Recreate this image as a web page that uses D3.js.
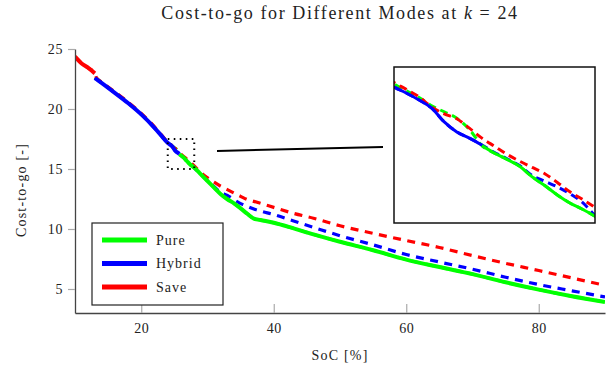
<!DOCTYPE html>
<html>
<head>
<meta charset="utf-8">
<script src="https://cdn.jsdelivr.net/npm/d3@7"></script>
<style>
  body { margin: 0; background: #fff; }
  text { font-family: "Liberation Serif", "Times New Roman", serif; fill: #222; }
</style>
</head>
<body>
<div id="chart"></div>
<script>
// state of charge grid [%]
const soc = [10, 11, 12, 13, 13.2, 14, 16, 18, 20, 22, 23,
    24, 24.25, 24.5, 24.75, 25, 25.25, 25.5, 25.75, 26, 26.25, 26.5, 26.75, 27, 27.25, 27.5, 27.75, 28,
    29, 30, 31, 32, 33, 34, 35, 36, 37, 38,
    40, 43, 46, 50, 55, 60, 65, 70, 75, 80, 85, 90];

const pure = [null, null, null, 22.62, 22.55, 22.22, 21.39, 20.54, 19.59, 18.47, 17.84,
    17.23, 17.12, 17.01, 16.88, 16.78, 16.68, 16.50, 16.24, 16.12, 16.02, 15.91, 15.74, 15.60, 15.45, 15.32, 15.22, 15.11,
    14.55, 14.0, 13.45, 12.9, 12.48, 12.14, 11.72, 11.27, 10.87, 10.75,
    10.52, 10.05, 9.55, 8.94, 8.23, 7.45, 6.83, 6.24, 5.56, 4.95, 4.40, 3.92];

const hybrid = [null, null, null, 22.58, 22.5, 22.18, 21.35, 20.5, 19.55, 18.43, 17.8,
    17.18, 17.08, 16.97, 16.84, 16.62, 16.46, 16.36, 16.25, 16.13, 16.03, 15.92, 15.76, 15.67, 15.58, 15.47, 15.33, 15.12,
    14.6, 14.05, 13.52, 13.05, 12.8, 12.45, 12.12, 11.89, 11.67, 11.5,
    11.2, 10.67, 10.14, 9.44, 8.68, 7.87, 7.25, 6.65, 5.98, 5.37, 4.85, 4.34];

const save = [24.36, 23.8, 23.42, 22.97, 22.65, 22.25, 21.43, 20.58, 19.63, 18.52, 17.88,
    17.25, 17.14, 17.02, 16.86, 16.75, 16.67, 16.52, 16.36, 16.23, 16.10, 15.99, 15.89, 15.79, 15.65, 15.50, 15.38, 15.25,
    14.7, 14.27, 13.9, 13.56, 13.28, 13.0, 12.72, 12.45, 12.3, 12.14,
    11.8, 11.3, 10.9, 10.27, 9.64, 9.04, 8.46, 7.78, 7.14, 6.54, 5.92, 5.3];

const modes = ['Pure', 'Hybrid', 'Save'];
const colors = ['#00ff00', '#0000ff', '#ff0000'];
const xTicks = [20, 40, 60, 80];
const yTicks = [5, 10, 15, 20, 25];
const zoomX = [24, 28];
const zoomY = [15, 17.5];

const width = 610, height = 368;
const margin = { top: 49, right: 5, bottom: 55, left: 75 };

const svg = d3.select('#chart').append('svg')
    .attr('width', width)
    .attr('height', height);

const x = d3.scaleLinear().domain([10, 90]).range([margin.left, width - margin.right]);
const y = d3.scaleLinear().domain([3, 25]).range([height - margin.bottom, margin.top]);

// one record per mode, with a flag where that mode gives the lowest cost
const allValues = [pure, hybrid, save];
const series = modes.map((name, k) => ({
    name,
    color: colors[k],
    points: soc.map((s, i) => ({ soc: s, v: allValues[k][i] }))
}));
series.forEach(sr => {
    sr.points.forEach((p, i) => {
        const vals = allValues.map(a => a[i]).filter(v => v != null);
        p.opt = p.v != null && p.v <= d3.min(vals) + 1e-9;
    });
    sr.points.forEach((p, i) => {
        p.solid = p.opt || (i > 0 && sr.points[i - 1].opt);
    });
});

// widen text a little with letter spacing (capped) to get near the original width
function fitText(sel, target, maxSpacing) {
    const w = sel.node().getComputedTextLength();
    const n = sel.text().length;
    const s = Math.max(0, Math.min(maxSpacing, (target - w) / n));
    sel.style('letter-spacing', s + 'px');
}

svg.append('defs').append('clipPath').attr('id', 'clip-main')
    .append('rect')
    .attr('x', margin.left).attr('y', margin.top)
    .attr('width', width - margin.left - margin.right)
    .attr('height', height - margin.top - margin.bottom);

function drawCurves(g, xs, ys, widthSolid, widthDash, dash) {
    const line = d3.line()
        .defined(p => p.v != null)
        .x(p => xs(p.soc))
        .y(p => ys(p.v))
        .curve(d3.curveMonotoneX);
    const solidLine = d3.line()
        .defined(p => p.v != null && p.solid)
        .x(p => xs(p.soc))
        .y(p => ys(p.v))
        .curve(d3.curveMonotoneX);

    g.selectAll('path.dash')
        .data(series)
        .enter().append('path')
        .attr('class', 'dash')
        .attr('fill', 'none')
        .attr('stroke', d => d.color)
        .attr('stroke-width', widthDash)
        .attr('stroke-dasharray', dash)
        .attr('d', d => line(d.points));

    g.selectAll('path.solid')
        .data(series)
        .enter().append('path')
        .attr('class', 'solid')
        .attr('fill', 'none')
        .attr('stroke', d => d.color)
        .attr('stroke-width', widthSolid)
        .attr('stroke-linejoin', 'round')
        .attr('d', d => solidLine(d.points));
}

// main curves
const plot = svg.append('g').attr('clip-path', 'url(#clip-main)');
drawCurves(plot, x, y, 4, 3.2, '8,6.5');

// axes
const xAxis = svg.append('g')
    .attr('transform', `translate(0,${height - margin.bottom})`)
    .call(d3.axisBottom(x).tickValues(xTicks).tickSize(-9).tickSizeOuter(0).tickPadding(10));
const yAxis = svg.append('g')
    .attr('transform', `translate(${margin.left},0)`)
    .call(d3.axisLeft(y).tickValues(yTicks).tickSize(7).tickSizeOuter(0).tickPadding(5));

[xAxis, yAxis].forEach(a => {
    a.select('.domain').attr('stroke', '#444').attr('stroke-width', 1.3);
    a.selectAll('.tick line').attr('stroke', '#aaa').attr('stroke-width', 1.2);
    a.selectAll('.tick text')
        .style('font-family', '"Liberation Serif", serif')
        .style('font-size', '14px')
        .style('letter-spacing', '0.6px')
        .attr('fill', '#222');
});

// dotted zoom box
svg.append('rect')
    .attr('x', x(zoomX[0]))
    .attr('y', y(zoomY[1]))
    .attr('width', x(zoomX[1]) - x(zoomX[0]))
    .attr('height', y(zoomY[0]) - y(zoomY[1]))
    .attr('fill', 'none')
    .attr('stroke', '#000')
    .attr('stroke-width', 2)
    .attr('stroke-dasharray', '1.6,4.4');

// connector to inset
svg.append('line')
    .attr('x1', 217).attr('y1', 151)
    .attr('x2', 383).attr('y2', 147)
    .attr('stroke', '#000')
    .attr('stroke-width', 2);

// inset
const inset = { x0: 394, x1: 595, y0: 67, y1: 223 };
const xi = d3.scaleLinear().domain(zoomX).range([inset.x0, inset.x1]);
const yi = d3.scaleLinear().domain(zoomY).range([inset.y1, inset.y0]);

svg.append('defs').append('clipPath').attr('id', 'clip-inset')
    .append('rect')
    .attr('x', inset.x0).attr('y', inset.y0)
    .attr('width', inset.x1 - inset.x0).attr('height', inset.y1 - inset.y0);

svg.append('rect')
    .attr('x', inset.x0).attr('y', inset.y0)
    .attr('width', inset.x1 - inset.x0).attr('height', inset.y1 - inset.y0)
    .attr('fill', '#fff');

const insetG = svg.append('g').attr('clip-path', 'url(#clip-inset)');
drawCurves(insetG, xi, yi, 3, 3, '8,5');

svg.append('rect')
    .attr('x', inset.x0).attr('y', inset.y0)
    .attr('width', inset.x1 - inset.x0).attr('height', inset.y1 - inset.y0)
    .attr('fill', 'none')
    .attr('stroke', '#111')
    .attr('stroke-width', 1.5);

// legend
const legend = svg.append('g').attr('transform', 'translate(92,223)');
legend.append('rect')
    .attr('width', 131).attr('height', 82)
    .attr('fill', '#fff')
    .attr('stroke', '#222')
    .attr('stroke-width', 1.2);
const items = legend.selectAll('g.item')
    .data(series)
    .enter().append('g')
    .attr('class', 'item')
    .attr('transform', (d, i) => `translate(0,${17 + i * 23.5})`);
items.append('line')
    .attr('x1', 10).attr('x2', 55)
    .attr('stroke', d => d.color)
    .attr('stroke-width', 5);
items.append('text')
    .attr('x', 64).attr('y', 4.5)
    .style('font-size', '14px')
    .style('letter-spacing', '1px')
    .text(d => d.name);

// title and labels
const title = svg.append('text')
    .attr('x', (margin.left + width - margin.right) / 2)
    .attr('y', 19)
    .attr('text-anchor', 'middle')
    .style('font-size', '18px');
title.append('tspan').text('Cost-to-go for Different Modes at ');
title.append('tspan').style('font-style', 'italic').text('k');
title.append('tspan').text(' = 24');
fitText(title, 388, 1.6);

const xLabel = svg.append('text')
    .attr('x', (margin.left + width - margin.right) / 2)
    .attr('y', 360)
    .attr('text-anchor', 'middle')
    .style('font-size', '14px')
    .text('SoC [%]');
fitText(xLabel, 66, 1.2);

const yLabel = svg.append('text')
    .attr('transform', 'translate(26,190) rotate(-90)')
    .attr('text-anchor', 'middle')
    .style('font-size', '14px')
    .text('Cost-to-go [-]');
fitText(yLabel, 108, 1.2);
</script>
</body>
</html>
